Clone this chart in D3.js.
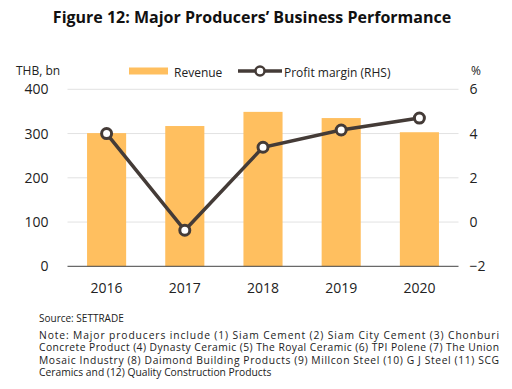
<!DOCTYPE html>
<html>
<head>
<meta charset="utf-8">
<script src="https://cdn.jsdelivr.net/npm/d3@7"></script>
<style>
body { margin: 0; background: #fff; }
text { font-family: "Open Sans", "Noto Sans", sans-serif; fill: #222; }
</style>
</head>
<body>
<svg id="chart" width="512" height="389"></svg>
<script>
var years = ["2016", "2017", "2018", "2019", "2020"];
var revenue = [301, 317, 349, 335, 303];
var profitMargin = [4.0, -0.37, 3.38, 4.16, 4.7];
var leftTicks = [0, 100, 200, 300, 400];
var rightTicks = [-2, 0, 2, 4, 6];
var noteLines = [
	"Note: Major producers include (1) Siam Cement  (2) Siam City Cement  (3) Chonburi",
	"Concrete Product  (4) Dynasty Ceramic (5) The Royal Ceramic  (6) TPI Polene (7) The Union",
	"Mosaic Industry (8) Daimond Building Products  (9) Millcon Steel  (10) G J Steel  (11) SCG",
	"Ceramics and (12) Quality Construction Products"
];

var svg = d3.select("#chart");
var plotLeft = 67.5, plotRight = 458.5, plotTop = 89.3, plotBottom = 266.3;

var x = d3.scaleBand().domain(years).range([plotLeft, plotRight]).paddingInner(0.5).paddingOuter(0.25);
var yL = d3.scaleLinear().domain([0, 400]).range([plotBottom, plotTop]);
var yR = d3.scaleLinear().domain([-2, 6]).range([plotBottom, plotTop]);

// title
svg.append("text")
	.attr("x", 252).attr("y", 23)
	.attr("text-anchor", "middle")
	.style("font-size", "16px").style("font-weight", "bold")
	.style("fill", "#111")
	.text("Figure 12: Major Producers\u2019 Business Performance");

// gridlines
svg.append("g").selectAll("line")
	.data(leftTicks.slice(1)).enter()
	.append("line")
	.attr("x1", plotLeft).attr("x2", plotRight)
	.attr("y1", function(d){ return yL(d); })
	.attr("y2", function(d){ return yL(d); })
	.attr("stroke", "#e2e2e2").attr("stroke-width", 1);

// bars
svg.append("g").selectAll("rect")
	.data(years).enter()
	.append("rect")
	.attr("x", function(d){ return x(d); })
	.attr("width", x.bandwidth())
	.attr("y", function(d, i){ return yL(revenue[i]); })
	.attr("height", function(d, i){ return plotBottom - yL(revenue[i]); })
	.attr("fill", "#ffbf5f");

// baseline
svg.append("line")
	.attr("x1", plotLeft).attr("x2", plotRight)
	.attr("y1", plotBottom).attr("y2", plotBottom)
	.attr("stroke", "#444").attr("stroke-width", 1);

// axes
var axisL = svg.append("g").attr("transform", "translate(" + (plotLeft - 19) + ",0)")
	.call(d3.axisLeft(yL).tickValues(leftTicks).tickSize(0).tickPadding(0));
var axisR = svg.append("g").attr("transform", "translate(" + (plotRight + 11) + ",0)")
	.call(d3.axisRight(yR).tickValues(rightTicks).tickSize(0).tickPadding(0));
var axisX = svg.append("g").attr("transform", "translate(0," + (plotBottom + 14) + ")")
	.call(d3.axisBottom(x).tickSize(0).tickPadding(0));
[axisL, axisR, axisX].forEach(function(a){
	a.select(".domain").remove();
	a.selectAll("text").style("font-size", "14px").style("fill", "#222")
		.style("font-family", "\"Open Sans\", sans-serif");
});
axisX.selectAll("text").attr("dy", "0.9em");

// line
var line = d3.line()
	.x(function(d, i){ return x(years[i]) + x.bandwidth() / 2; })
	.y(function(d){ return yR(d); });
svg.append("path")
	.datum(profitMargin)
	.attr("d", line)
	.attr("fill", "none")
	.attr("stroke", "#443b37")
	.attr("stroke-width", 3.5);
svg.append("g").selectAll("circle")
	.data(profitMargin).enter()
	.append("circle")
	.attr("cx", function(d, i){ return x(years[i]) + x.bandwidth() / 2; })
	.attr("cy", function(d){ return yR(d); })
	.attr("r", 5)
	.attr("fill", "#fff")
	.attr("stroke", "#443b37")
	.attr("stroke-width", 3);

// axis titles
svg.append("text").attr("x", 16).attr("y", 75)
	.style("font-size", "12px").text("THB, bn");
svg.append("text").attr("x", 471).attr("y", 75)
	.style("font-size", "12px").text("%");

// legend
svg.append("rect").attr("x", 129).attr("y", 67.5).attr("width", 39).attr("height", 7).attr("fill", "#ffbf5f");
svg.append("text").attr("x", 174).attr("y", 77).style("font-size", "12px").text("Revenue");
svg.append("line").attr("x1", 238).attr("x2", 282).attr("y1", 71).attr("y2", 71)
	.attr("stroke", "#443b37").attr("stroke-width", 3.5);
svg.append("circle").attr("cx", 260).attr("cy", 71).attr("r", 4.5)
	.attr("fill", "#fff").attr("stroke", "#443b37").attr("stroke-width", 2.5);
svg.append("text").attr("x", 284).attr("y", 77).style("font-size", "12px").text("Profit margin (RHS)");

// source & note
svg.append("text").attr("x", 39).attr("y", 322)
	.style("font-size", "10px").text("Source: SETTRADE");
svg.append("g").selectAll("text")
	.data(noteLines).enter()
	.append("text")
	.attr("x", 39)
	.attr("y", function(d, i){ return 338.5 + i * 12.6; })
	.attr("textLength", function(d, i){ return i < 3 ? 460 : null; })
	.attr("lengthAdjust", "spacing")
	.style("font-size", "10.3px")
	.text(function(d){ return d; });
</script>
</body>
</html>
